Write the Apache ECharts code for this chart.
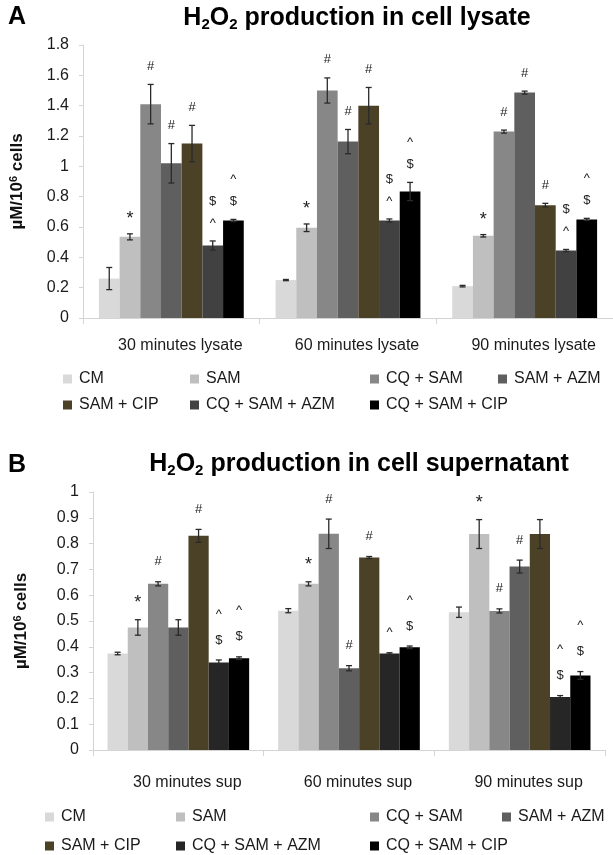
<!DOCTYPE html>
<html>
<head>
<meta charset="utf-8">
<script src="https://cdn.jsdelivr.net/npm/echarts@6/dist/echarts.min.js"></script>
<style>html,body{margin:0;padding:0;background:#fff;}#c{width:613px;height:855px;}</style>
</head>
<body>
<div id="c"></div>
<script>
// ---------- data ----------
const seriesNames = ['CM', 'SAM', 'CQ + SAM', 'SAM + AZM', 'SAM + CIP', 'CQ + SAM + AZM', 'CQ + SAM + CIP'];

// Panel A: lysate
const categoriesA = ['30 minutes lysate', '60 minutes lysate', '90 minutes lysate'];
const yTicksA = ['0', '0.2', '0.4', '0.6', '0.8', '1', '1.2', '1.4', '1.6', '1.8'];
const cmA        = [0.26, 0.25, 0.21];
const samA       = [0.535, 0.595, 0.542];
const cqSamA     = [1.41, 1.50, 1.229];
const samAzmA    = [1.02, 1.163, 1.486];
const samCipA    = [1.15, 1.40, 0.744];
const cqSamAzmA  = [0.478, 0.643, 0.445];
const cqSamCipA  = [0.643, 0.834, 0.65];
const errCmA       = [0.073, 0.004, 0.005];
const errSamA      = [0.02, 0.025, 0.008];
const errCqSamA    = [0.13, 0.083, 0.01];
const errSamAzmA   = [0.13, 0.08, 0.01];
const errSamCipA   = [0.12, 0.12, 0.012];
const errCqSamAzmA = [0.03, 0.01, 0.007];
const errCqSamCipA = [0.007, 0.06, 0.007];
const markCmA       = ['', '', ''];
const markSamA      = ['*', '*', '*'];
const markCqSamA    = ['#', '#', '#'];
const markSamAzmA   = ['#', '#', '#'];
const markSamCipA   = ['#', '#', '#'];
const markCqSamAzmA = ['^$', '^$', '^$'];
const markCqSamCipA = ['$^', '$^', '$^'];

// Panel B: supernatant
const categoriesB = ['30 minutes sup', '60 minutes sup', '90 minutes sup'];
const yTicksB = ['0', '0.1', '0.2', '0.3', '0.4', '0.5', '0.6', '0.7', '0.8', '0.9', '1'];
const cmB        = [0.374, 0.54, 0.534];
const samB       = [0.475, 0.644, 0.837];
const cqSamB     = [0.644, 0.838, 0.539];
const samAzmB    = [0.475, 0.317, 0.711];
const samCipB    = [0.830, 0.746, 0.837];
const cqSamAzmB  = [0.339, 0.374, 0.205];
const cqSamCipB  = [0.356, 0.398, 0.289];
const errCmB       = [0.005, 0.008, 0.02];
const errSamB      = [0.03, 0.008, 0.056];
const errCqSamB    = [0.008, 0.057, 0.008];
const errSamAzmB   = [0.03, 0.01, 0.025];
const errSamCipB   = [0.025, 0.004, 0.056];
const errCqSamAzmB = [0.01, 0.003, 0.006];
const errCqSamCipB = [0.005, 0.005, 0.015];
const markCmB       = ['', '', ''];
const markSamB      = ['*', '*', '*'];
const markCqSamB    = ['#', '#', '#'];
const markSamAzmB   = ['', '#', '#'];
const markSamCipB   = ['#', '#', ''];
const markCqSamAzmB = ['$^', '^', '$^'];
const markCqSamCipB = ['$^', '$^', '$^'];

// ---------- styles ----------
const colorsA = ['#d9d9d9', '#bfbfbf', '#878787', '#5f5f5f', '#4b4127', '#414141', '#000000'];
const colorsB = ['#d9d9d9', '#bfbfbf', '#878787', '#5f5f5f', '#4b4127', '#262626', '#000000'];
const FONT = '"Liberation Sans", Arial, sans-serif';

const valsA = [cmA, samA, cqSamA, samAzmA, samCipA, cqSamAzmA, cqSamCipA];
const errsA = [errCmA, errSamA, errCqSamA, errSamAzmA, errSamCipA, errCqSamAzmA, errCqSamCipA];
const marksA = [markCmA, markSamA, markCqSamA, markSamAzmA, markSamCipA, markCqSamAzmA, markCqSamCipA];
const valsB = [cmB, samB, cqSamB, samAzmB, samCipB, cqSamAzmB, cqSamCipB];
const errsB = [errCmB, errSamB, errCqSamB, errSamAzmB, errSamCipB, errCqSamAzmB, errCqSamCipB];
const marksB = [markCmB, markSamB, markCqSamB, markSamAzmB, markSamCipB, markCqSamAzmB, markCqSamCipB];

function buildErr(vals, errs, marks) {
  const data = [], ann = [];
  vals.forEach((arr, j) => arr.forEach((v, i) => {
    data.push([i, j, v, errs[j][i]]);
    ann.push(marks[j][i]);
  }));
  return { data, ann };
}

function makeRender(ann, gapRatio, first, step) {
  return function (params, api) {
    const i = api.value(0), j = api.value(1), v = api.value(2), e = api.value(3);
    const band = api.size([1, 0])[0];
    const bw = band * (1 - gapRatio) / 7;
    const cx = api.coord([i, v])[0] + (j - 3) * bw;
    const yt = api.coord([i, v + e])[1];
    const yb = api.coord([i, Math.max(0, v - e)])[1];
    const st = { stroke: '#2a2a2a', lineWidth: 1.3 };
    const children = [
      { type: 'line', shape: { x1: cx, y1: yt, x2: cx, y2: yb }, style: st },
      { type: 'line', shape: { x1: cx - 3, y1: yt, x2: cx + 3, y2: yt }, style: st },
      { type: 'line', shape: { x1: cx - 3, y1: yb, x2: cx + 3, y2: yb }, style: st }
    ];
    const s = ann[params.dataIndex] || '';
    for (let k = 0; k < s.length; k++) {
      const ch = s[k];
      children.push({
        type: 'text',
        style: {
          text: ch, x: cx, y: yt - first - k * step + (ch === '*' ? 3 : 0),
          align: 'center', verticalAlign: 'middle',
          font: (ch === '*' ? '18px ' : '13px ') + FONT, fill: '#222'
        }
      });
    }
    return { type: 'group', children };
  };
}

const eA = buildErr(valsA, errsA, marksA);
const eB = buildErr(valsB, errsB, marksB);
const gapA = 0.18, gapB = 0.17;

const series = [];
seriesNames.forEach((n, j) => {
  series.push({ name: n, type: 'bar', xAxisIndex: 0, yAxisIndex: 0, data: valsA[j],
    barGap: '0%', barCategoryGap: (gapA * 100) + '%', itemStyle: { color: colorsA[j] }, silent: true });
});
seriesNames.forEach((n, j) => {
  series.push({ name: n, type: 'bar', xAxisIndex: 1, yAxisIndex: 1, data: valsB[j],
    barGap: '0%', barCategoryGap: (gapB * 100) + '%', itemStyle: { color: colorsB[j] }, silent: true });
});
series.push({ type: 'custom', xAxisIndex: 0, yAxisIndex: 0, data: eA.data, z: 10,
  renderItem: makeRender(eA.ann, gapA, 18, 22), encode: { x: 0, y: 2 }, silent: true });
series.push({ type: 'custom', xAxisIndex: 1, yAxisIndex: 1, data: eB.data, z: 10,
  renderItem: makeRender(eB.ann, gapB, 20, 26), encode: { x: 0, y: 2 }, silent: true });

const axisGrey = '#d4d4d4';
function xAxis(cats, grid, margin) {
  return {
    type: 'category', gridIndex: grid, data: cats,
    axisLine: { lineStyle: { color: axisGrey, width: 1 } },
    axisTick: { show: true, length: 6, lineStyle: { color: axisGrey } },
    axisLabel: { fontFamily: FONT, fontSize: 16, color: '#1a1a1a', margin: margin, padding: [0, 0, 0, 18] }
  };
}
function yAxis(grid, max, interval, ticks, nameGap) {
  return {
    type: 'value', gridIndex: grid, min: 0, max: max, interval: interval,
    axisLine: { show: true, lineStyle: { color: axisGrey } },
    axisTick: { show: true, length: 4, lineStyle: { color: axisGrey } },
    splitLine: { show: false },
    axisLabel: { fontFamily: FONT, fontSize: 16, color: '#1a1a1a', margin: 14,
      formatter: (v, idx) => ticks[idx] },
    name: '{a|µM/10}{s|6}{a| cells}',
    nameLocation: 'middle', nameGap: nameGap, nameRotate: 90,
    nameTextStyle: {
      rich: {
        a: { fontFamily: FONT, fontSize: 17, fontWeight: 'bold', color: '#111' },
        s: { fontFamily: FONT, fontSize: 11, fontWeight: 'bold', color: '#111', padding: [0, 0, 8, 0] }
      }
    }
  };
}

function legendItems(names, colors, lefts, tops) {
  return names.map((n, j) => ({
    left: lefts[j], top: tops[j], padding: 0, itemWidth: 9, itemHeight: 9, icon: 'rect',
    selectedMode: false,
    textStyle: { fontFamily: FONT, fontSize: 16, color: '#1a1a1a', padding: [0, 0, 0, 2] },
    data: [{ name: n, itemStyle: { color: colors[j] } }]
  }));
}
const legends = [].concat(
  legendItems(seriesNames, colorsA, [63, 190, 370, 498, 63, 190, 370], [371, 371, 371, 371, 397, 397, 397]),
  legendItems(seriesNames, colorsB, [45, 176, 370, 502, 45, 176, 370], [809, 809, 809, 809, 838, 838, 838])
);

function titleRich(rest) {
  return {
    text: '{b|H}{sub|2}{b|O}{sub|2}{b|' + rest + '}',
    textStyle: {
      rich: {
        b: { fontFamily: FONT, fontSize: 25, fontWeight: 'bold', color: '#000' },
        sub: { fontFamily: FONT, fontSize: 15, fontWeight: 'bold', color: '#000', padding: [12, 0, 0, 0] }
      }
    }
  };
}

const option = {
  animation: false,
  backgroundColor: '#fff',
  title: [
    { text: 'A', left: 8, top: 5, padding: 0, textStyle: { fontFamily: FONT, fontSize: 25, fontWeight: 'bold', color: '#000' } },
    Object.assign({ left: 357, top: 5, padding: 0, textAlign: 'center' }, titleRich(' production in cell lysate')),
    { text: 'B', left: 8, top: 453, padding: 0, textStyle: { fontFamily: FONT, fontSize: 25, fontWeight: 'bold', color: '#000' } },
    Object.assign({ left: 359, top: 451, padding: 0, textAlign: 'center' }, titleRich(' production in cell supernatant'))
  ],
  legend: legends,
  grid: [
    { left: 82, right: 0, top: 45, bottom: 537, containLabel: false },
    { left: 93, right: 8, top: 492, bottom: 105, containLabel: false }
  ],
  xAxis: [xAxis(categoriesA, 0, 20), xAxis(categoriesB, 1, 25)],
  yAxis: [yAxis(0, 1.8, 0.2, yTicksA, 56), yAxis(1, 1, 0.1, yTicksB, 62)],
  series: series
};

const chart = echarts.init(document.getElementById('c'), null, { renderer: 'canvas' });
chart.setOption(option);
</script>
</body>
</html>
